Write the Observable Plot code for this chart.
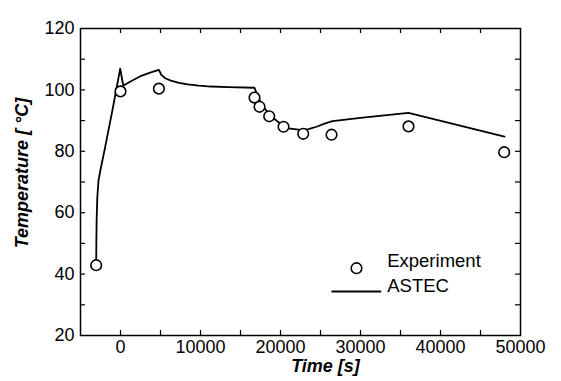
<!DOCTYPE html>
<html>
<head>
<meta charset="utf-8">
<script src="https://cdn.jsdelivr.net/npm/d3@7"></script>
<script src="https://cdn.jsdelivr.net/npm/@observablehq/plot@0.6"></script>
<style>
  html, body { margin: 0; padding: 0; background: #fff; }
  #chart { width: 561px; height: 381px; }
</style>
</head>
<body>
<div id="chart"></div>
<script>
// Experiment data
const expTime = [-3040, 0, 4800, 16750, 17380, 18590, 20380, 22840, 26380, 36000, 47960];
const expTemp = [42.9, 99.5, 100.4, 97.5, 94.5, 91.4, 88.0, 85.7, 85.4, 88.1, 79.7];

// ASTEC simulation
const astecTime = [-3040, -3020, -2980, -2900, -2750, -2500, -2000, -1000, -40, 350, 700, 1600, 2600, 3700, 4800, 5100, 5600, 6300, 7300, 8400, 9800, 11300, 13500, 16750, 17200, 18000, 19000, 20000, 21000, 22500, 23500, 24500, 25500, 26500, 30000, 36000, 48000];
const astecTemp = [42.8, 50, 58, 65, 70.5, 74, 80.3, 93.5, 106.9, 101.4, 101.9, 103.2, 104.6, 105.6, 106.5, 104.9, 103.8, 103.0, 102.3, 101.8, 101.4, 101.1, 100.9, 100.7, 97.5, 94.0, 91.0, 89.0, 87.5, 87.0, 87.2, 88.0, 89.0, 89.8, 90.9, 92.5, 84.8];

// Ticks
const xLabelTicks = [0, 10000, 20000, 30000, 40000, 50000];
const xMinorTicks = [0, 5000, 10000, 15000, 20000, 25000, 30000, 35000, 40000, 45000];
const yLabelTicks = [20, 40, 60, 80, 100, 120];
const yMinorTicks = [30, 40, 50, 60, 70, 80, 90, 100, 110];

const seriesNames = ["Experiment", "ASTEC"];
const xTitle = "Time [s]";
const yTitle = "Temperature [ °C]";

const expData = expTime.map((t, i) => ({t, v: expTemp[i]}));
const astecData = astecTime.map((t, i) => ({t, v: astecTemp[i]}));

const font = "'Liberation Sans', Arial, sans-serif";
const tickLen = 5;
const plotH = 381 - 28 - 46;
const plotW = 561 - 80 - 41;

const chart = Plot.plot({
  width: 561,
  height: 381,
  marginLeft: 80,
  marginRight: 41,
  marginTop: 28,
  marginBottom: 46,
  style: {fontFamily: font, fontSize: "18px", color: "#000", background: "#fff"},
  x: {domain: [-5000, 50000], label: null},
  y: {domain: [20, 120], label: null},
  marks: [
    // inward ticks: bottom & top
    Plot.tickX(xMinorTicks, {x: d => d, insetTop: plotH - tickLen, stroke: "#000", strokeWidth: 1.2}),
    Plot.tickX(xMinorTicks, {x: d => d, insetBottom: plotH - tickLen, stroke: "#000", strokeWidth: 1.2}),
    // inward ticks: left & right
    Plot.tickY(yMinorTicks, {y: d => d, insetRight: plotW - tickLen, stroke: "#000", strokeWidth: 1.2}),
    Plot.tickY(yMinorTicks, {y: d => d, insetLeft: plotW - tickLen, stroke: "#000", strokeWidth: 1.2}),
    Plot.axisX({ticks: xLabelTicks, tickSize: 0, tickPadding: 5, tickFormat: d3.format("d"), label: null, fontSize: 18}),
    Plot.axisY({ticks: yLabelTicks, tickSize: 0, tickPadding: 6, tickFormat: d3.format("d"), label: null, fontSize: 18}),
    Plot.line(astecData, {x: "t", y: "v", stroke: "#000", strokeWidth: 1.8}),
    Plot.dot(expData, {x: "t", y: "v", r: 5.3, stroke: "#000", strokeWidth: 1.6, fill: "#fff"}),
    Plot.frame({stroke: "#000", strokeWidth: 1.5}),
    // axis titles
    Plot.text([xTitle], {frameAnchor: "bottom", dx: 25, dy: 36, text: d => d, fontWeight: "bold", fontStyle: "italic", fontSize: 18, fill: "#000"}),
    Plot.text([yTitle], {frameAnchor: "left", dx: -58.5, dy: -9, rotate: -90, textAnchor: "middle", text: d => d, fontWeight: "bold", fontStyle: "italic", fontSize: 18, fill: "#000"}),
    // legend
    Plot.dot([seriesNames[0]], {frameAnchor: "bottom-right", dx: -164, dy: -67.3, r: 5.3, stroke: "#000", strokeWidth: 1.6, fill: "#fff"}),
    Plot.text([seriesNames[0]], {frameAnchor: "bottom-right", dx: -133.3, dy: -68.5, text: d => d, textAnchor: "start", fontSize: 18.5, fill: "#000"}),
    Plot.vector([seriesNames[1]], {frameAnchor: "bottom-right", dx: -188.3, dy: -44, rotate: 90, length: 48.3, anchor: "start", stroke: "#000", strokeWidth: 1.8,
      shape: {draw(context, l) { context.moveTo(0, 0); context.lineTo(0, -l); }}}),
    Plot.text([seriesNames[1]], {frameAnchor: "bottom-right", dx: -133.3, dy: -43.5, text: d => d, textAnchor: "start", fontSize: 18.5, fill: "#000"})
  ]
});
document.getElementById("chart").appendChild(chart);
</script>
</body>
</html>
